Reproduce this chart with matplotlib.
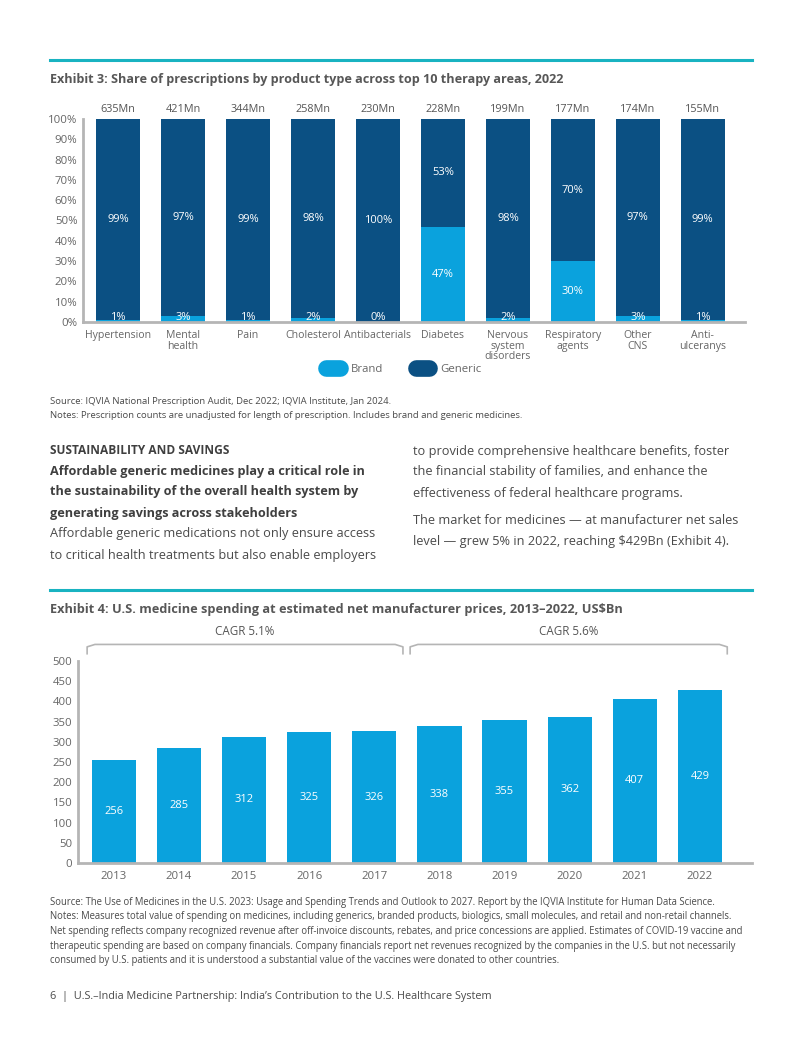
import matplotlib
matplotlib.use("Agg")
import matplotlib.pyplot as plt
from matplotlib.lines import Line2D
import numpy as np

plt.rcParams['font.family'] = ['Open Sans', 'DejaVu Sans']

# ---------------- data ----------------
therapy_areas = ["Hypertension", "Mental\nhealth", "Pain", "Cholesterol", "Antibacterials",
                 "Diabetes", "Nervous\nsystem\ndisorders", "Respiratory\nagents", "Other\nCNS", "Anti-\nulceranys"]
rx_counts = ["635Mn", "421Mn", "344Mn", "258Mn", "230Mn", "228Mn", "199Mn", "177Mn", "174Mn", "155Mn"]
brand_share = [1, 3, 1, 2, 0, 47, 2, 30, 3, 1]
generic_share = [99, 97, 99, 98, 100, 53, 98, 70, 97, 99]
pct_ticks = [0, 10, 20, 30, 40, 50, 60, 70, 80, 90, 100]

years = ["2013", "2014", "2015", "2016", "2017", "2018", "2019", "2020", "2021", "2022"]
spending = [256, 285, 312, 325, 326, 338, 355, 362, 407, 429]
spend_ticks = [0, 50, 100, 150, 200, 250, 300, 350, 400, 450, 500]
cagr_labels = ["CAGR 5.1%", "CAGR 5.6%"]

# ---------------- style ----------------
W, H = 802, 1037
DARK = "#0B5083"
LIGHT = "#0AA2DD"
TEAL = "#19B3C1"
TXT = "#4A4A4A"
TITLE = "#575757"
AXC = "#B5B5B5"

fig = plt.figure(figsize=(W / 100, H / 100), dpi=100)
fig.patch.set_facecolor("white")

def fx(x):
    return x / W

def fy(y):
    return 1 - y / H

def box(x0, y0, x1, y1):
    return [fx(x0), fy(y1), fx(x1) - fx(x0), fy(y0) - fy(y1)]

def style_axes(ax):
    for s in ["top", "right"]:
        ax.spines[s].set_visible(False)
    for s in ["left", "bottom"]:
        ax.spines[s].set_color(AXC)
        ax.spines[s].set_linewidth(2)
    ax.tick_params(length=0, colors="#666666", labelsize=8.2)

# teal lines
for yy in (60, 590):
    fig.add_artist(Line2D([fx(50), fx(752)], [fy(yy), fy(yy)], color=TEAL, lw=2.2))

# ---------------- Exhibit 3 ----------------
fig.text(fx(50), fy(80), "Exhibit 3: Share of prescriptions by product type across top 10 therapy areas, 2022",
         fontsize=9.1, fontweight="bold", color=TITLE, va="center", ha="left")

ax1 = fig.add_axes(box(83, 119, 745, 322))
x = np.arange(len(therapy_areas))
bw = 0.68
ax1.bar(x, brand_share, width=bw, color=LIGHT, zorder=2)
ax1.bar(x, generic_share, width=bw, bottom=brand_share, color=DARK, zorder=2)
ax1.set_xlim(-0.54, 9.65)
ax1.set_ylim(0, 100)
ax1.set_yticks(pct_ticks)
ax1.set_yticklabels([f"{t}%" for t in pct_ticks])
ax1.set_xticks(x)
ax1.set_xticklabels(therapy_areas, fontsize=7.6, linespacing=0.92, va="top")
style_axes(ax1)
ax1.tick_params(axis="x", pad=6, labelsize=7.6)
ax1.tick_params(axis="y", pad=4)
for i in range(len(x)):
    b = brand_share[i]
    g = generic_share[i]
    ax1.text(i, 100 + 2, rx_counts[i], ha="center", va="bottom", fontsize=7.8, color="#555555")
    ax1.text(i, b + g / 2, f"{g}%", ha="center", va="center", fontsize=8, color="white")
    ax1.text(i, max(b / 2, 2.0), f"{b}%", ha="center", va="center", fontsize=8, color="white")

handles = [Line2D([0], [0], color=LIGHT, lw=12, solid_capstyle="round"),
           Line2D([0], [0], color=DARK, lw=12, solid_capstyle="round")]
fig.legend(handles, ["Brand", "Generic"], loc="center", bbox_to_anchor=(fx(404), fy(369)),
           ncol=2, frameon=False, fontsize=8.2, handlelength=1.2, columnspacing=2.8,
           handletextpad=1.0, labelcolor="#666666")

fig.text(fx(50), fy(402), "Source: IQVIA National Prescription Audit, Dec 2022; IQVIA Institute, Jan 2024.",
         fontsize=6.8, color=TXT, va="center")
fig.text(fx(50), fy(416), "Notes: Prescription counts are unadjusted for length of prescription. Includes brand and generic medicines.",
         fontsize=6.8, color=TXT, va="center")

# ---------------- body text ----------------
fig.text(fx(50), fy(451), "SUSTAINABILITY AND SAVINGS", fontsize=8.6, fontweight="bold", color="#3F3F3F", va="center")
bold_lines = ["Affordable generic medicines play a critical role in",
              "the sustainability of the overall health system by",
              "generating savings across stakeholders"]
for k, ln in enumerate(bold_lines):
    fig.text(fx(50), fy(471 + 21 * k), ln, fontsize=9.1, fontweight="bold", color="#3F3F3F", va="center")
reg_lines = ["Affordable generic medications not only ensure access",
             "to critical health treatments but also enable employers"]
for k, ln in enumerate(reg_lines):
    fig.text(fx(50), fy(534 + 21 * k), ln, fontsize=9.2, color=TXT, va="center")
right_lines = ["to provide comprehensive healthcare benefits, foster",
               "the financial stability of families, and enhance the",
               "effectiveness of federal healthcare programs."]
for k, ln in enumerate(right_lines):
    fig.text(fx(413), fy(451 + 21 * k), ln, fontsize=9.2, color=TXT, va="center")
right_lines2 = ["The market for medicines \u2014 at manufacturer net sales",
                "level \u2014 grew 5% in 2022, reaching $429Bn (Exhibit 4)."]
for k, ln in enumerate(right_lines2):
    fig.text(fx(413), fy(521 + 21 * k), ln, fontsize=9.2, color=TXT, va="center")

# ---------------- Exhibit 4 ----------------
fig.text(fx(50), fy(610), "Exhibit 4: U.S. medicine spending at estimated net manufacturer prices, 2013\u20132022, US$Bn",
         fontsize=9.2, fontweight="bold", color=TITLE, va="center", ha="left")

ax2 = fig.add_axes(box(78, 661, 752, 863))
x2 = np.arange(len(years))
ax2.bar(x2, spending, width=0.68, color=LIGHT, zorder=2)
ax2.set_xlim(-0.55, 9.8)
ax2.set_ylim(0, 500)
ax2.set_yticks(spend_ticks)
ax2.set_xticks(x2)
ax2.set_xticklabels(years)
style_axes(ax2)
ax2.tick_params(axis="x", pad=6)
ax2.tick_params(axis="y", pad=4)
for i, v in enumerate(spending):
    ax2.text(i, v / 2, str(v), ha="center", va="center", fontsize=8, color="white")

# CAGR brackets (annotation geometry)
def bracket(ax, x0, x1, y_top, y_bot, label):
    r = 0.12
    xs = [x0, x0, x0 + r, x1 - r, x1, x1]
    ys = [y_bot, y_top - 6, y_top, y_top, y_top - 6, y_bot]
    ax.plot(xs, ys, color=AXC, lw=1.2, clip_on=False, solid_joinstyle="round")
    ax.text((x0 + x1) / 2, y_top + 15, label, ha="center", va="bottom", fontsize=8.4, color="#555555")

bracket(ax2, -0.41, 4.44, 541, 518, cagr_labels[0])
bracket(ax2, 4.55, 9.42, 541, 518, cagr_labels[1])

src2 = ["Source: The Use of Medicines in the U.S. 2023: Usage and Spending Trends and Outlook to 2027. Report by the IQVIA Institute for Human Data Science.",
        "Notes: Measures total value of spending on medicines, including generics, branded products, biologics, small molecules, and retail and non-retail channels.",
        "Net spending reflects company recognized revenue after off-invoice discounts, rebates, and price concessions are applied. Estimates of COVID-19 vaccine and",
        "therapeutic spending are based on company financials. Company financials report net revenues recognized by the companies in the U.S. but not necessarily",
        "consumed by U.S. patients and it is understood a substantial value of the vaccines were donated to other countries."]
for k, ln in enumerate(src2):
    fig.text(fx(50), fy(902 + 14.7 * k), ln, fontsize=6.85, color=TXT, va="center")

fig.text(fx(50), fy(996), "6  |  U.S.\u2013India Medicine Partnership: India\u2019s Contribution to the U.S. Healthcare System",
         fontsize=7.8, color=TXT, va="center")

fig.savefig("out.png", dpi=100, facecolor="white")
